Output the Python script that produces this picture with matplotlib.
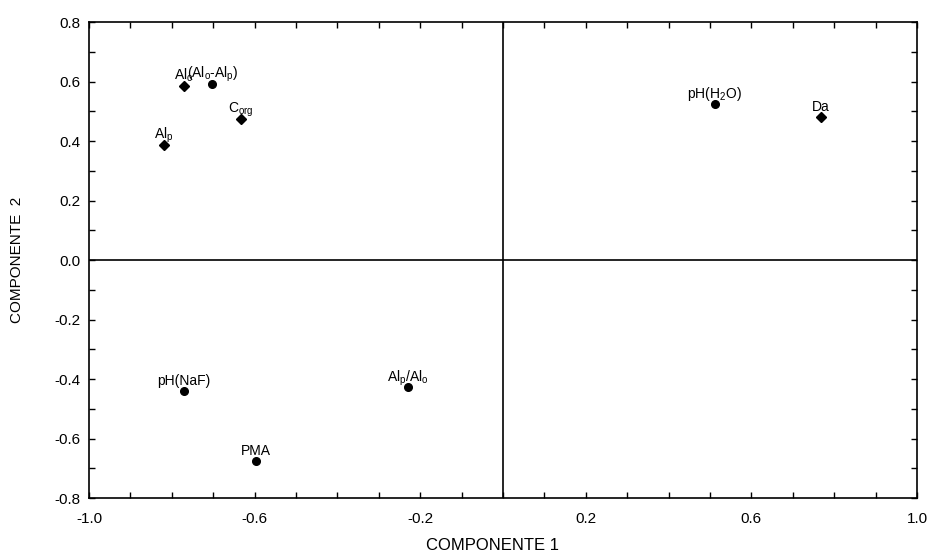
import numpy as np
import matplotlib
matplotlib.use("Agg")
import matplotlib.pyplot as plt

plt.rcParams["font.family"] = ["Liberation Sans", "DejaVu Sans"]
plt.rcParams["mathtext.fontset"] = "custom"
plt.rcParams["mathtext.rm"] = "Liberation Sans"
plt.rcParams["mathtext.it"] = "Liberation Sans:italic"

# PCA loadings
labels = [r"Al$_\mathrm{o}$", r"(Al$_\mathrm{o}$-Al$_\mathrm{p}$)", r"C$_\mathrm{org}$",
          r"Al$_\mathrm{p}$", r"pH(H$_\mathrm{2}$O)", "Da", "pH(NaF)", "PMA",
          r"Al$_\mathrm{p}$/Al$_\mathrm{o}$"]
comp1 = [-0.770, -0.702, -0.633, -0.820, 0.511, 0.767, -0.770, -0.596, -0.230]
comp2 = [0.584, 0.593, 0.473, 0.386, 0.523, 0.480, -0.441, -0.677, -0.428]
markers = ["D", "o", "D", "D", "o", "D", "o", "o", "o"]

xticks = [-1.0, -0.6, -0.2, 0.2, 0.6, 1.0]
yticks = [0.8, 0.6, 0.4, 0.2, 0.0, -0.2, -0.4, -0.6, -0.8]

fig = plt.figure(figsize=(9.34, 5.58), dpi=100)
ax = fig.add_axes([0.0953, 0.1075, 0.8865, 0.853])

ax.axhline(0, color="black", lw=1.2, zorder=1)
ax.axvline(0, color="black", lw=1.2, zorder=1)

for x, y, lab, m in zip(comp1, comp2, labels, markers):
    ms = 5 if m == "D" else 5.5
    ax.plot(x, y, marker=m, color="black", ms=ms, ls="none", zorder=3)
    ax.annotate(lab, (x, y), xytext=(0, 4.5), textcoords="offset points",
                ha="center", va="baseline", fontsize=10)

ax.set_xlim(-1.0, 1.0)
ax.set_ylim(-0.8, 0.8)
ax.set_xticks(xticks)
ax.set_xticklabels([f"{v:.1f}" for v in xticks])
ax.set_xticks(np.round(np.arange(-1.0, 1.01, 0.1), 1), minor=True)
ax.set_yticks(yticks)
ax.set_yticklabels([f"{v:.1f}" for v in yticks])
ax.set_yticks(np.round(np.arange(-0.8, 0.81, 0.1), 1), minor=True)

ax.tick_params(which="both", direction="in", top=True, right=True,
               length=4, width=1.0, labelsize=11)
ax.tick_params(axis="x", pad=10)
ax.tick_params(axis="y", pad=6)
for s in ax.spines.values():
    s.set_linewidth(1.2)

ax.set_xlabel("COMPONENTE 1", fontsize=12)
ax.set_ylabel("COMPONENTE  2", fontsize=11)
ax.xaxis.set_label_coords(0.487, -0.083)
ax.yaxis.set_label_coords(-0.079, 0.5)

fig.savefig("out.png", dpi=100)
